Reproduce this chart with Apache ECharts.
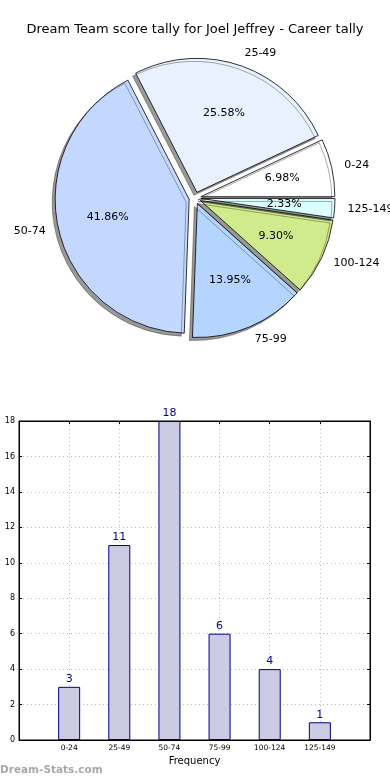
<!DOCTYPE html>
<html><head><meta charset="utf-8">
<script src="https://cdn.jsdelivr.net/npm/echarts@6/dist/echarts.min.js"></script>
<style>html,body{margin:0;padding:0;background:#fff}#c{width:390px;height:780px}</style>
</head><body><div id="c"></div>
<script>
const chartTitle = 'Dream Team score tally for Joel Jeffrey - Career tally';
const categories = ['0-24', '25-49', '50-74', '75-99', '100-124', '125-149'];
const counts = [3, 11, 18, 6, 4, 1];
const pieColors = ['#ffffff', '#e9f1ff', '#c4d8ff', '#b4d5ff', '#d0eb8c', '#dbffff'];
const yTicks = [0, 2, 4, 6, 8, 10, 12, 14, 16, 18];
const xAxisName = 'Frequency';
const yAxisName = 'Occurrences';
const watermark = 'Dream-Stats.com';

const total = counts.reduce((a, b) => a + b, 0);
const FONT = 'DejaVu Sans';
const R = 134;
const CX = 195, CY = 198;
const OFF = 6;

const pieData = categories.map((c, i) => ({
  name: c, value: counts[i], selected: true,
  itemStyle: { color: pieColors[i] }
}));

const chart = echarts.init(document.getElementById('c'), null, { renderer: 'canvas' });
chart.setOption({
  animation: false,
  backgroundColor: '#fff',
  title: [
    { text: chartTitle, left: 'center', top: 23, padding: 0,
      textStyle: { fontFamily: FONT, fontSize: 13, fontWeight: 'normal', color: '#000' } },
    { text: watermark, left: 0, top: 765, padding: 0,
      textStyle: { fontFamily: FONT, fontSize: 10.5, fontWeight: 'bold', color: '#a8a8a8' } }
  ],
  grid: { left: 19, right: 20, top: 421, bottom: 40, show: true, borderColor: '#000', borderWidth: 1,
    backgroundColor: 'transparent', containLabel: false, outerBoundsMode: 'none' },
  xAxis: [{
    type: 'value', min: -1, max: 6, interval: 1,
    name: xAxisName, nameLocation: 'middle', nameGap: 16,
    nameTextStyle: { fontFamily: FONT, fontSize: 10, color: '#000' },
    axisLine: { show: true, onZero: false, lineStyle: { color: '#000' } },
    axisTick: { show: true, inside: true, length: 3, lineStyle: { color: '#000' } },
    axisLabel: { fontFamily: FONT, fontSize: 7.5, color: '#000', margin: 4,
      formatter: v => (categories[v] !== undefined ? categories[v] : '') },
    splitLine: { show: true, lineStyle: { color: '#b8b8b8', type: [1, 3], width: 1 } }
  }, {
    type: 'value', position: 'top', min: -1, max: 6, interval: 1,
    axisLine: { show: true, onZero: false, lineStyle: { color: '#000' } },
    axisTick: { show: true, inside: true, length: 3, lineStyle: { color: '#000' } },
    axisLabel: { show: false }, splitLine: { show: false }
  }],
  yAxis: [{
    type: 'value', min: 0, max: 18, interval: 2,
    name: yAxisName, nameLocation: 'middle', nameGap: 16, nameRotate: 90,
    nameTextStyle: { fontFamily: FONT, fontSize: 10, color: '#000' },
    axisLine: { show: true, onZero: false, lineStyle: { color: '#000' } },
    axisTick: { show: true, inside: true, length: 3, lineStyle: { color: '#000' } },
    axisLabel: { fontFamily: FONT, fontSize: 8, color: '#000', margin: 4 },
    splitLine: { show: true, lineStyle: { color: '#b8b8b8', type: [1, 3], width: 1 } }
  }, {
    type: 'value', position: 'right', min: 0, max: 18, interval: 2,
    axisLine: { show: true, onZero: false, lineStyle: { color: '#000' } },
    axisTick: { show: true, inside: true, length: 3, lineStyle: { color: '#000' } },
    axisLabel: { show: false }, splitLine: { show: false }
  }],
  series: [
    {
      type: 'pie', center: [CX, CY], radius: [0, R],
      startAngle: 0, clockwise: false,
      selectedMode: 'multiple', selectedOffset: OFF,
      avoidLabelOverlap: false, silent: true,
      itemStyle: { borderColor: '#000', borderWidth: 0.8,
        shadowColor: 'rgba(0,0,0,0.4)', shadowBlur: 0, shadowOffsetX: -3, shadowOffsetY: 3 },
      label: { show: true, position: 'outside', formatter: '{b}', fontFamily: FONT, fontSize: 11,
        color: '#000', distanceToLabelLine: 0, overflow: 'none' },
      labelLine: { show: false, length: Math.round(R * 0.1), length2: 0 },
      emphasis: { disabled: true },
      data: pieData
    },
    {
      type: 'pie', center: [CX, CY], radius: [0, R * 1.2],
      startAngle: 0, clockwise: false,
      selectedMode: 'multiple', selectedOffset: OFF,
      avoidLabelOverlap: false, silent: true,
      itemStyle: { color: 'rgba(0,0,0,0)', borderWidth: 0 },
      label: { show: true, position: 'inside', fontFamily: FONT, fontSize: 11, color: '#000',
        formatter: p => (p.value / total * 100).toFixed(2) + '%' },
      labelLine: { show: false },
      emphasis: { disabled: true },
      data: categories.map((c, i) => ({ name: c, value: counts[i], selected: true }))
    },
    {
      type: 'bar', xAxisIndex: 0, yAxisIndex: 0, barWidth: 22,
      data: counts.map((v, i) => [i, v]),
      itemStyle: { color: '#cbcbe4', borderColor: '#000080', borderWidth: 1 },
      label: { show: true, position: 'top', distance: 2, fontFamily: FONT, fontSize: 11, color: '#00008b' },
      emphasis: { disabled: true }
    }
  ]
});
</script></body></html>
